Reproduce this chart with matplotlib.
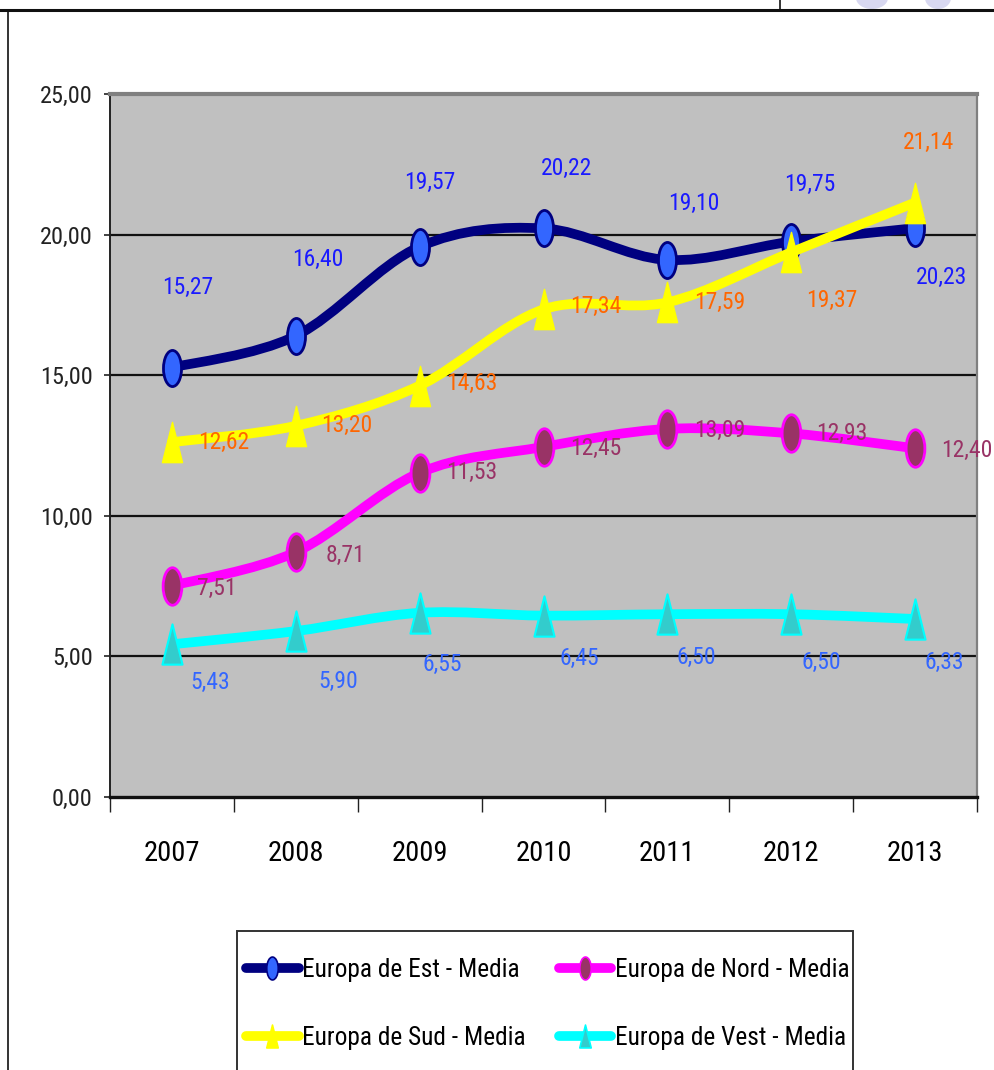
import numpy as np
import matplotlib
matplotlib.use('Agg')
import matplotlib.pyplot as plt
from matplotlib.path import Path
from matplotlib.patches import PathPatch, Rectangle, Ellipse
from matplotlib.transforms import Affine2D
from matplotlib.lines import Line2D
from matplotlib import font_manager as fm

# ---------------- data ----------------
years = ['2007', '2008', '2009', '2010', '2011', '2012', '2013']
est = [15.27, 16.40, 19.57, 20.22, 19.10, 19.75, 20.23]
nord = [7.51, 8.71, 11.53, 12.45, 13.09, 12.93, 12.40]
sud = [12.62, 13.20, 14.63, 17.34, 17.59, 19.37, 21.14]
vest = [5.43, 5.90, 6.55, 6.45, 6.50, 6.50, 6.33]
names = ['Europa de Est - Media', 'Europa de Nord - Media',
         'Europa de Sud - Media', 'Europa de Vest - Media']
yticks = [0, 5, 10, 15, 20, 25]

# label offsets (pixels, +x right, +y down) -- layout only
off_est = [(16, -80), (22, -76), (10, -64), (23, -60), (26, -56), (19, -57), (26, 49)]
off_sud = [(52, 0), (51, 0), (52, -2), (52, -3), (52, 0), (41, 48), (13, -60)]
off_nord = [(45, 3), (50, 3), (52, 0), (52, 2), (52, 2), (51, 0), (52, 2)]
off_vest = [(38, 38), (42, 50), (23, 52), (36, 43), (29, 43), (30, 48), (29, 43)]


def pick_font():
    for f in ['Liberation Sans Narrow', 'Roboto Condensed', 'Open Sans Condensed']:
        try:
            fm.findfont(fm.FontProperties(family=f), fallback_to_default=False)
            return f, 1.0
        except Exception:
            pass
    return 'Liberation Sans', 0.82


FONT, SC = pick_font()
plt.rcParams['font.family'] = [FONT, 'DejaVu Sans']

W, H = 994, 1070
fig = plt.figure(figsize=(W / 100, H / 100), dpi=100)
fig.patch.set_facecolor('white')

L, R, T, B = 110, 977, 94, 797
ax = fig.add_axes([L / W, 1 - B / H, (R - L) / W, (B - T) / H])
ax.set_facecolor('#c0c0c0')
ax.set_xlim(-0.5, 6.5)
ax.set_ylim(0, 25)

# grid
for v in yticks[1:-1]:
    ax.axhline(v, color='#111111', lw=1.6, zorder=1)

# spines
ax.spines['top'].set_color('#808080'); ax.spines['top'].set_linewidth(3)
ax.spines['right'].set_color('#808080'); ax.spines['right'].set_linewidth(1.6)
ax.spines['left'].set_color('#222222'); ax.spines['left'].set_linewidth(1.4)
ax.spines['bottom'].set_color('#111111'); ax.spines['bottom'].set_linewidth(2.4)

# ticks
ax.set_yticks(yticks)
ax.set_yticklabels([f"{v:.2f}".replace('.', ',') for v in yticks])
ax.tick_params(axis='y', direction='out', length=4.5, width=1.2, color='#222222',
               pad=8, labelsize=17.5 * SC, labelcolor='#222222')
x = np.arange(len(years))
ax.set_xticks(np.arange(-0.5, 7.0, 1.0))
ax.set_xticklabels([])
ax.tick_params(axis='x', which='major', direction='out', length=11, width=1.0, color='#222222')
ax.set_xticks(x, minor=True)
ax.set_xticklabels(years, minor=True)
ax.tick_params(axis='x', which='minor', length=0, pad=31, labelsize=20.5 * SC,
               labelcolor='black')


def smooth_path(xs, ys):
    xs = np.asarray(xs, float)
    ys = np.asarray(ys, float)
    n = len(xs)
    verts = [(xs[0], ys[0])]
    codes = [Path.MOVETO]
    for i in range(n - 1):
        p0 = np.array([xs[max(i - 1, 0)], ys[max(i - 1, 0)]])
        p1 = np.array([xs[i], ys[i]])
        p2 = np.array([xs[i + 1], ys[i + 1]])
        p3 = np.array([xs[min(i + 2, n - 1)], ys[min(i + 2, n - 1)]])
        c1 = p1 + (p2 - p0) / 6.0
        c2 = p2 - (p3 - p1) / 6.0
        verts += [tuple(c1), tuple(c2), tuple(p2)]
        codes += [Path.CURVE4] * 3
    return Path(verts, codes)


ellipse_m = Affine2D().scale(0.5, 1.0).transform_path(Path.unit_circle())
tri_m = Path([(0, 1), (0.5, -1), (-0.5, -1), (0, 1)],
             [Path.MOVETO, Path.LINETO, Path.LINETO, Path.CLOSEPOLY])

series = [
    dict(y=est, name=names[0], line='#000080', mfc='#3366ff', mec='#000080', marker=ellipse_m,
         ms=26, mew=2.0, lab='#1a1aff', off=off_est),
    dict(y=nord, name=names[1], line='#ff00ff', mfc='#993366', mec='#ff00ff', marker=ellipse_m,
         ms=27, mew=2.0, lab='#993366', off=off_nord),
    dict(y=sud, name=names[2], line='#ffff00', mfc='#ffff00', mec='#ffff00', marker=tri_m,
         ms=29, mew=1.0, lab='#ff6600', off=off_sud),
    dict(y=vest, name=names[3], line='#00ffff', mfc='#33cccc', mec='#00ffff', marker=tri_m,
         ms=29, mew=1.5, lab='#3366ff', off=off_vest),
]

handles = {}
for k, s in enumerate(series):
    z = 3 + k
    ax.add_patch(PathPatch(smooth_path(x, s['y']), facecolor='none', edgecolor=s['line'],
                           lw=7, capstyle='round', joinstyle='round', zorder=z))
    ax.plot(x, s['y'], linestyle='none', marker=s['marker'], ms=s['ms'], mfc=s['mfc'],
            mec=s['mec'], mew=s['mew'], zorder=z + 0.1)
    for i, v in enumerate(s['y']):
        dx, dy = s['off'][i]
        ax.annotate(f"{v:.2f}".replace('.', ','), (x[i], v), xytext=(dx * 0.72, -dy * 0.72),
                    textcoords='offset points', ha='center', va='center',
                    fontsize=17 * SC, color=s['lab'], zorder=10)
    handles[s['name']] = Line2D([], [], color=s['line'], lw=7, marker=s['marker'], ms=16.5,
                                mfc=s['mfc'], mec=s['mec'], mew=1.2, solid_capstyle='round')

# legend box
lx0, lx1, ly0 = 237, 853, 931
fig.add_artist(Rectangle((lx0 / W, 1 - 1090 / H), (lx1 - lx0) / W, (1090 - ly0) / H,
                         transform=fig.transFigure, fill=False, edgecolor='#333333', lw=1.4))
order = [names[0], names[2], names[1], names[3]]
fig.legend([handles[n] for n in order], order, ncol=2, frameon=False,
           loc='center', bbox_to_anchor=(548 / W, 1 - 1004 / H),
           fontsize=18.3 * SC, handlelength=2.05, handletextpad=0.15,
           columnspacing=1.3, labelspacing=1.75, borderpad=0)

# outer frame decoration
fig.add_artist(Line2D([0, 1], [1 - 10 / H, 1 - 10 / H], transform=fig.transFigure,
                      color='#111111', lw=2.2))
fig.add_artist(Line2D([780 / W, 780 / W], [1, 1 - 10 / H], transform=fig.transFigure,
                      color='#111111', lw=1.2))
fig.add_artist(Line2D([8 / W, 8 / W], [1 - 10 / H, 0], transform=fig.transFigure,
                      color='#111111', lw=1.2))
for cx, wd in [(872, 32), (938, 26)]:
    fig.add_artist(Ellipse((cx / W, 1 - (-2) / H), wd / W, 22 / H, transform=fig.transFigure,
                           facecolor='#d8d8f0', edgecolor='none'))

fig.savefig('out.png', dpi=100)
